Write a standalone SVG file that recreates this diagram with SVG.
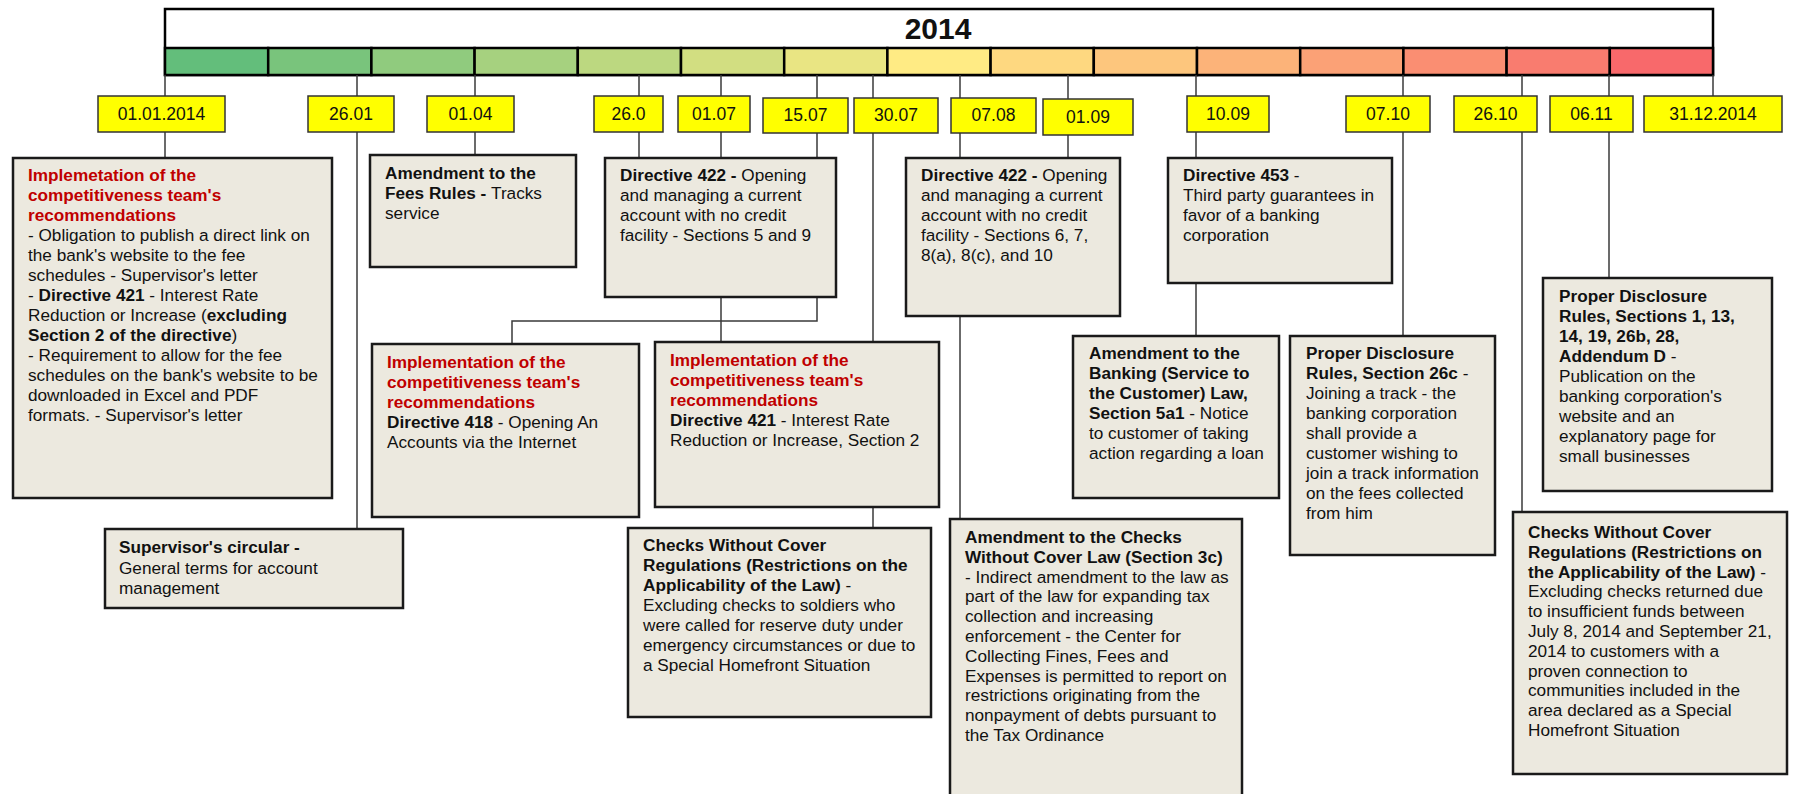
<svg xmlns="http://www.w3.org/2000/svg" width="1794" height="794" viewBox="0 0 1794 794">
<style>
text{font-family:"Liberation Sans",Arial,sans-serif;font-size:17.2px;fill:#111}
.b{font-weight:bold}
.r{font-weight:bold;fill:#C00000}
.node{fill:#ECE9DF;stroke:#1a1a1a;stroke-width:2.5}
.date rect{fill:#FFFF00;stroke:#333;stroke-width:1.5}
.date text{font-size:17.5px;text-anchor:middle}
.conn line,.conn polyline{stroke:#3a3a3a;stroke-width:1.5;fill:none}
.seg{stroke:#000;stroke-width:2.5}
</style>
<rect width="1794" height="794" fill="#fff"/>
<g id="timeline">
<rect x="165" y="9" width="1548" height="66" fill="#fff" stroke="#000" stroke-width="2.5"/>
<text x="938" y="39" class="b" style="font-size:30px" text-anchor="middle">2014</text>
<rect class="seg" x="165" y="48" width="103.2" height="27" fill="#63BE7B"/>
<rect class="seg" x="268.2" y="48" width="103.2" height="27" fill="#79C47C"/>
<rect class="seg" x="371.4" y="48" width="103.2" height="27" fill="#90CB7E"/>
<rect class="seg" x="474.6" y="48" width="103.2" height="27" fill="#A6D17F"/>
<rect class="seg" x="577.8" y="48" width="103.2" height="27" fill="#BCD880"/>
<rect class="seg" x="681" y="48" width="103.2" height="27" fill="#D2DE81"/>
<rect class="seg" x="784.2" y="48" width="103.2" height="27" fill="#E9E583"/>
<rect class="seg" x="887.4" y="48" width="103.2" height="27" fill="#FFEB84"/>
<rect class="seg" x="990.6" y="48" width="103.2" height="27" fill="#FED880"/>
<rect class="seg" x="1093.8" y="48" width="103.2" height="27" fill="#FDC67D"/>
<rect class="seg" x="1197" y="48" width="103.2" height="27" fill="#FCB379"/>
<rect class="seg" x="1300.2" y="48" width="103.2" height="27" fill="#FBA176"/>
<rect class="seg" x="1403.4" y="48" width="103.2" height="27" fill="#FA8E72"/>
<rect class="seg" x="1506.6" y="48" width="103.2" height="27" fill="#F97C6F"/>
<rect class="seg" x="1609.8" y="48" width="103.2" height="27" fill="#F8696B"/>
</g>
<g id="connectors" class="conn">
<line x1="165" y1="75" x2="165" y2="158"/>
<line x1="357" y1="75" x2="357" y2="529"/>
<line x1="475" y1="75" x2="475" y2="155"/>
<line x1="639" y1="75" x2="639" y2="158"/>
<line x1="721" y1="75" x2="721" y2="342"/>
<polyline points="817,75 817,321 512,321 512,344"/>
<line x1="873" y1="75" x2="873" y2="528"/>
<line x1="960" y1="75" x2="960" y2="519"/>
<line x1="1068" y1="75" x2="1068" y2="158"/>
<line x1="1196" y1="75" x2="1196" y2="336"/>
<line x1="1403" y1="75" x2="1403" y2="336"/>
<line x1="1522" y1="75" x2="1522" y2="512"/>
<line x1="1609" y1="75" x2="1609" y2="278"/>
<line x1="1713" y1="75" x2="1713" y2="96"/>
</g>
<g id="dates">
<g id="d1" class="date"><rect x="98" y="96" width="127" height="36"/><text x="161.5" y="120">01.01.2014</text></g>
<g id="d2" class="date"><rect x="308" y="96" width="86" height="36"/><text x="351" y="120">26.01</text></g>
<g id="d3" class="date"><rect x="427" y="96" width="87" height="36"/><text x="470.5" y="120">01.04</text></g>
<g id="d4" class="date"><rect x="594" y="96" width="69" height="36"/><text x="628.5" y="120">26.0</text></g>
<g id="d5" class="date"><rect x="678" y="96" width="72" height="36"/><text x="714" y="120">01.07</text></g>
<g id="d6" class="date"><rect x="763" y="98" width="85" height="35"/><text x="805.5" y="121">15.07</text></g>
<g id="d7" class="date"><rect x="854" y="98" width="84" height="35"/><text x="896" y="121">30.07</text></g>
<g id="d8" class="date"><rect x="951" y="98" width="85" height="35"/><text x="993.5" y="121">07.08</text></g>
<g id="d9" class="date"><rect x="1043" y="99" width="90" height="36"/><text x="1088" y="123">01.09</text></g>
<g id="d10" class="date"><rect x="1187" y="96" width="82" height="36"/><text x="1228" y="120">10.09</text></g>
<g id="d11" class="date"><rect x="1346" y="96" width="84" height="36"/><text x="1388" y="120">07.10</text></g>
<g id="d12" class="date"><rect x="1454" y="96" width="83" height="36"/><text x="1495.5" y="120">26.10</text></g>
<g id="d13" class="date"><rect x="1550" y="96" width="83" height="36"/><text x="1591.5" y="120">06.11</text></g>
<g id="d14" class="date"><rect x="1644" y="96" width="138" height="36"/><text x="1713" y="120">31.12.2014</text></g>
</g>
<g id="n1">
<rect class="node" x="13" y="158" width="319" height="340"/>
<text x="28" y="181"><tspan class="r">Implemetation of the</tspan><tspan x="28" dy="20" class="r">competitiveness team's</tspan><tspan x="28" dy="20" class="r">recommendations</tspan><tspan x="28" dy="20">- Obligation to publish a direct link on</tspan><tspan x="28" dy="20">the bank's website to the fee</tspan><tspan x="28" dy="20">schedules - Supervisor's letter</tspan><tspan x="28" dy="20">- </tspan><tspan class="b">Directive 421</tspan><tspan> - Interest Rate</tspan><tspan x="28" dy="20">Reduction or Increase (</tspan><tspan class="b">excluding</tspan><tspan x="28" dy="20" class="b">Section 2 of the directive</tspan><tspan>)</tspan><tspan x="28" dy="20">- Requirement to allow for the fee</tspan><tspan x="28" dy="20">schedules on the bank's website to be</tspan><tspan x="28" dy="20">downloaded in Excel and PDF</tspan><tspan x="28" dy="20">formats. - Supervisor's letter</tspan></text>
</g>
<g id="n2">
<rect class="node" x="105" y="529" width="298" height="79"/>
<text x="119" y="553"><tspan class="b">Supervisor's circular -</tspan><tspan x="119" dy="20.5">General terms for account</tspan><tspan x="119" dy="20.5">management</tspan></text>
</g>
<g id="n3">
<rect class="node" x="370" y="155" width="206" height="112"/>
<text x="385" y="179"><tspan class="b">Amendment to the</tspan><tspan x="385" dy="20" class="b">Fees Rules - </tspan><tspan>Tracks</tspan><tspan x="385" dy="20">service</tspan></text>
</g>
<g id="n4">
<rect class="node" x="605" y="158" width="231" height="139"/>
<text x="620" y="181"><tspan class="b">Directive 422 - </tspan><tspan>Opening</tspan><tspan x="620" dy="20">and managing a current</tspan><tspan x="620" dy="20">account with no credit</tspan><tspan x="620" dy="20">facility - Sections 5 and 9</tspan></text>
</g>
<g id="n5">
<rect class="node" x="372" y="344" width="267" height="173"/>
<text x="387" y="368"><tspan class="r">Implementation of the</tspan><tspan x="387" dy="20" class="r">competitiveness team's</tspan><tspan x="387" dy="20" class="r">recommendations</tspan><tspan x="387" dy="20" class="b">Directive 418</tspan><tspan> - Opening An</tspan><tspan x="387" dy="20">Accounts via the Internet</tspan></text>
</g>
<g id="n6">
<rect class="node" x="655" y="342" width="284" height="165"/>
<text x="670" y="366"><tspan class="r">Implementation of the</tspan><tspan x="670" dy="20" class="r">competitiveness team's</tspan><tspan x="670" dy="20" class="r">recommendations</tspan><tspan x="670" dy="20" class="b">Directive 421</tspan><tspan> - Interest Rate</tspan><tspan x="670" dy="20">Reduction or Increase, Section 2</tspan></text>
</g>
<g id="n7">
<rect class="node" x="628" y="528" width="303" height="189"/>
<text x="643" y="551"><tspan class="b">Checks Without Cover</tspan><tspan x="643" dy="20" class="b">Regulations (Restrictions on the</tspan><tspan x="643" dy="20" class="b">Applicability of the Law)</tspan><tspan> -</tspan><tspan x="643" dy="20">Excluding checks to soldiers who</tspan><tspan x="643" dy="20">were called for reserve duty under</tspan><tspan x="643" dy="20">emergency circumstances or due to</tspan><tspan x="643" dy="20">a Special Homefront Situation</tspan></text>
</g>
<g id="n8">
<rect class="node" x="906" y="158" width="214" height="158"/>
<text x="921" y="181"><tspan class="b">Directive 422 - </tspan><tspan>Opening</tspan><tspan x="921" dy="20">and managing a current</tspan><tspan x="921" dy="20">account with no credit</tspan><tspan x="921" dy="20">facility - Sections 6, 7,</tspan><tspan x="921" dy="20">8(a), 8(c), and 10</tspan></text>
</g>
<g id="n9">
<rect class="node" x="950" y="519" width="292" height="290"/>
<text x="965" y="543"><tspan class="b">Amendment to the Checks</tspan><tspan x="965" dy="19.8" class="b">Without Cover Law (Section 3c)</tspan><tspan x="965" dy="19.8">- Indirect amendment to the law as</tspan><tspan x="965" dy="19.8">part of the law for expanding tax</tspan><tspan x="965" dy="19.8">collection and increasing</tspan><tspan x="965" dy="19.8">enforcement - the Center for</tspan><tspan x="965" dy="19.8">Collecting Fines, Fees and</tspan><tspan x="965" dy="19.8">Expenses is permitted to report on</tspan><tspan x="965" dy="19.8">restrictions originating from the</tspan><tspan x="965" dy="19.8">nonpayment of debts pursuant to</tspan><tspan x="965" dy="19.8">the Tax Ordinance</tspan></text>
</g>
<g id="n10">
<rect class="node" x="1168" y="158" width="224" height="125"/>
<text x="1183" y="181"><tspan class="b">Directive 453</tspan><tspan> -</tspan><tspan x="1183" dy="20">Third party guarantees in</tspan><tspan x="1183" dy="20">favor of a banking</tspan><tspan x="1183" dy="20">corporation</tspan></text>
</g>
<g id="n11">
<rect class="node" x="1073" y="336" width="206" height="162"/>
<text x="1089" y="359"><tspan class="b">Amendment to the</tspan><tspan x="1089" dy="20" class="b">Banking (Service to</tspan><tspan x="1089" dy="20" class="b">the Customer) Law,</tspan><tspan x="1089" dy="20" class="b">Section 5a1</tspan><tspan> - Notice</tspan><tspan x="1089" dy="20">to customer of taking</tspan><tspan x="1089" dy="20">action regarding a loan</tspan></text>
</g>
<g id="n12">
<rect class="node" x="1290" y="336" width="205" height="219"/>
<text x="1306" y="359"><tspan class="b">Proper Disclosure</tspan><tspan x="1306" dy="20" class="b">Rules, Section 26c</tspan><tspan> -</tspan><tspan x="1306" dy="20">Joining a track - the</tspan><tspan x="1306" dy="20">banking corporation</tspan><tspan x="1306" dy="20">shall provide a</tspan><tspan x="1306" dy="20">customer wishing to</tspan><tspan x="1306" dy="20">join a track information</tspan><tspan x="1306" dy="20">on the fees collected</tspan><tspan x="1306" dy="20">from him</tspan></text>
</g>
<g id="n13">
<rect class="node" x="1543" y="278" width="229" height="213"/>
<text x="1559" y="302"><tspan class="b">Proper Disclosure</tspan><tspan x="1559" dy="20" class="b">Rules, Sections 1, 13,</tspan><tspan x="1559" dy="20" class="b">14, 19, 26b, 28,</tspan><tspan x="1559" dy="20" class="b">Addendum D</tspan><tspan> -</tspan><tspan x="1559" dy="20">Publication on the</tspan><tspan x="1559" dy="20">banking corporation's</tspan><tspan x="1559" dy="20">website and an</tspan><tspan x="1559" dy="20">explanatory page for</tspan><tspan x="1559" dy="20">small businesses</tspan></text>
</g>
<g id="n14">
<rect class="node" x="1513" y="512" width="274" height="262"/>
<text x="1528" y="538"><tspan class="b">Checks Without Cover</tspan><tspan x="1528" dy="19.8" class="b">Regulations (Restrictions on</tspan><tspan x="1528" dy="19.8" class="b">the Applicability of the Law)</tspan><tspan> -</tspan><tspan x="1528" dy="19.8">Excluding checks returned due</tspan><tspan x="1528" dy="19.8">to insufficient funds between</tspan><tspan x="1528" dy="19.8">July 8, 2014 and September 21,</tspan><tspan x="1528" dy="19.8">2014 to customers with a</tspan><tspan x="1528" dy="19.8">proven connection to</tspan><tspan x="1528" dy="19.8">communities included in the</tspan><tspan x="1528" dy="19.8">area declared as a Special</tspan><tspan x="1528" dy="19.8">Homefront Situation</tspan></text>
</g>
</svg>
